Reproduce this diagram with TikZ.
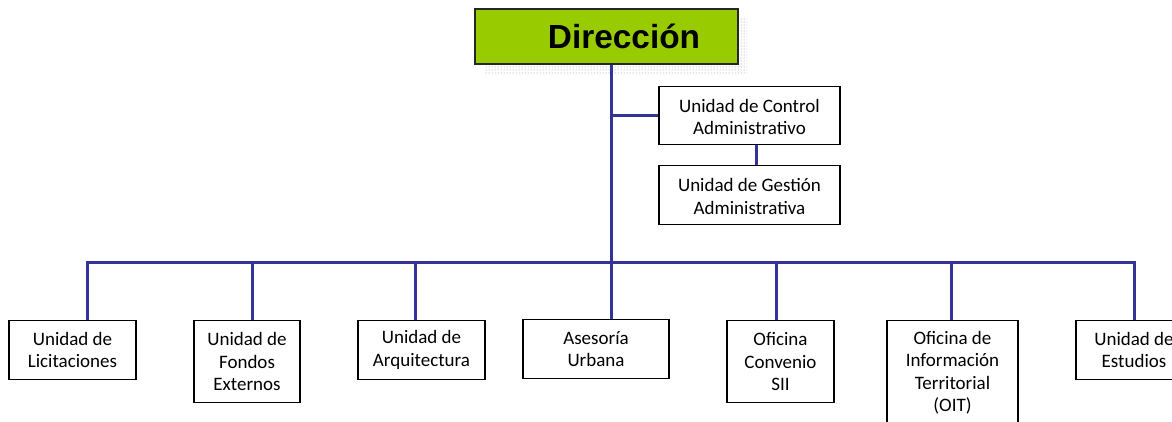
\documentclass[tikz,border=0pt]{standalone}
\usepackage{fontspec}
\setmainfont{Carlito}
\newfontfamily\arialfont{Liberation Sans}
\usetikzlibrary{positioning, shadows, patterns}
\definecolor{dirgreen}{HTML}{99CC00}
\definecolor{linkblue}{HTML}{333399}

\begin{document}
\begin{tikzpicture}[x=1pt, y=1pt,
  unit/.style={draw=black, line width=1.3pt, fill=white, anchor=north, align=center,
    inner sep=0pt, font=\fontsize{19}{22.5}\selectfont},
  dirbox/.style={draw=black!85, line width=1.3pt, fill=dirgreen, minimum width=263pt,
    minimum height=55pt, inner sep=0pt, font=\arialfont\bfseries\fontsize{33.4}{40}\selectfont,
    general shadow={shadow xshift=9pt, shadow yshift=-9pt, pattern=dots, pattern color=black!45}},
  link/.style={draw=linkblue, line width=3pt}]
\useasboundingbox (0,0) rectangle (1172,-421);
\clip (0,0) rectangle (1172,-421);

\node [dirbox] (dir) at (606.5,-36.5) {\hspace*{35pt}Dirección};
\node [unit, minimum width=181pt, minimum height=58pt] (ctl) at (749.5,-86) {\rule{0pt}{16pt}Unidad de Control\\Administrativo};
\node [unit, minimum width=181pt, minimum height=59pt] (ges) at (749.5,-165) {\rule{0pt}{16pt}Unidad de Gestión\\Administrativa};

\node [unit, minimum width=127pt, minimum height=59pt] (lic) at (72.5,-320) {Unidad de\\Licitaciones};
\node [unit, minimum width=106pt, minimum height=82pt] (fon) at (247,-320) {Unidad de\\Fondos\\Externos};
\node [unit, minimum width=127pt, minimum height=59pt] (arq) at (421.5,-320) {Unidad de\\Arquitectura};
\node [unit, minimum width=146pt, minimum height=59pt] (ase) at (596,-319) {Asesoría\\Urbana};
\node [unit, minimum width=107pt, minimum height=82pt] (con) at (780.5,-320) {Oficina\\Convenio\\SII};
\node [unit, minimum width=131pt, minimum height=104pt] (oit) at (952.5,-320) {Oficina de\\Información\\Territorial\\(OIT)};
\node [unit, minimum width=116pt, minimum height=59pt] (est) at (1134,-320) {Unidad de\\Estudios};

\coordinate (trunk) at (611,-262);

\draw [link] (dir.south -| trunk) -- (ase.north -| trunk);
\draw [link] (ctl.west) -- (ctl.west -| trunk);
\draw [link] ([xshift=6.5pt]ctl.south) -- ([xshift=6.5pt]ges.north);
\draw [link] ([xshift=14.5pt]lic.north) |- (trunk) -| (est.north);
\draw [link] ([xshift=5pt]fon.north) -- ([xshift=5pt]fon.north |- trunk);
\draw [link] ([xshift=-6.5pt]arq.north) -- ([xshift=-6.5pt]arq.north |- trunk);
\draw [link] ([xshift=-4.5pt]con.north) -- ([xshift=-4.5pt]con.north |- trunk);
\draw [link] ([xshift=-1.5pt]oit.north) -- ([xshift=-1.5pt]oit.north |- trunk);

\end{tikzpicture}
\end{document}
